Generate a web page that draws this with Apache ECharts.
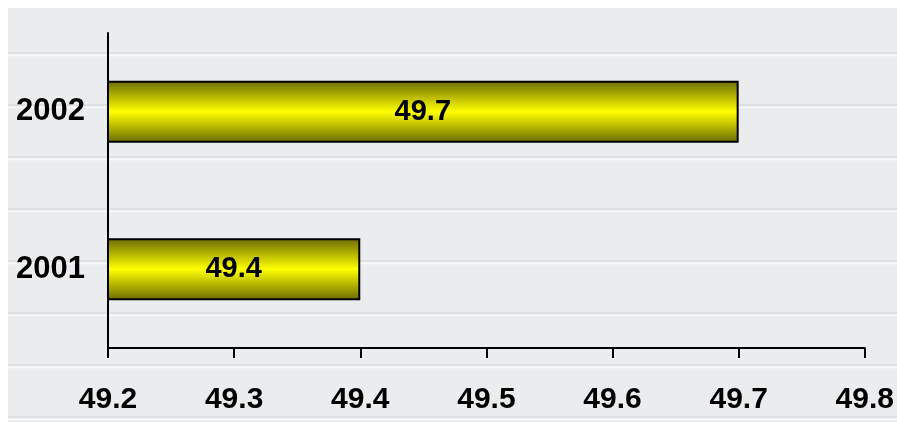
<!DOCTYPE html>
<html>
<head>
<meta charset="utf-8">
<script src="https://cdn.jsdelivr.net/npm/echarts@6/dist/echarts.min.js"></script>
<style>
  html, body { margin: 0; padding: 0; background: #ffffff; }
  #wrap { position: relative; width: 897px; height: 422px; background: #ffffff; }
  #bg {
    position: absolute; left: 8px; top: 8px; width: 889px; height: 414px;
    background-color: #eaeced;
    background-image:
      repeating-linear-gradient(180deg, rgba(255,255,255,0) 0px, rgba(255,255,255,0) 44px, rgba(200,203,205,0.6) 45px, rgba(255,255,255,0.8) 47px, rgba(255,255,255,0) 49px, rgba(255,255,255,0) 52px);
  }
  #chart { position: absolute; left: 0; top: 0; width: 897px; height: 422px; }
</style>
</head>
<body>
<div id="wrap">
  <div id="bg"></div>
  <div id="chart"></div>
</div>
<script>
const categories = ['2001', '2002'];
const values = [49.4, 49.7];
const axisMin = 49.2;
const axisMax = 49.8;
const axisStep = 0.1;

const chart = echarts.init(document.getElementById('chart'), null, { renderer: 'canvas' });
chart.setOption({
  backgroundColor: 'transparent',
  animation: false,
  grid: { left: 108, right: 31, top: 33, bottom: 74, containLabel: false },
  xAxis: {
    type: 'value',
    min: axisMin,
    max: axisMax,
    interval: axisStep,
    axisLine: { show: true, lineStyle: { color: '#000', width: 2 } },
    axisTick: { show: true, length: 10, lineStyle: { color: '#000', width: 2 } },
    splitLine: { show: false },
    axisLabel: {
      color: '#000', fontFamily: 'Liberation Sans, Arial, sans-serif',
      fontWeight: 'bold', fontSize: 30, margin: 37,
      formatter: v => v.toFixed(1)
    }
  },
  yAxis: {
    type: 'category',
    data: categories,
    axisLine: { show: true, lineStyle: { color: '#000', width: 2 } },
    axisTick: { show: false },
    axisLabel: {
      color: '#000', fontFamily: 'Liberation Sans, Arial, sans-serif',
      fontWeight: 'bold', fontSize: 31, margin: 23
    }
  },
  series: [{
    type: 'bar',
    data: values,
    barWidth: 62,
    itemStyle: {
      color: new echarts.graphic.LinearGradient(0, 0, 0, 1, [
        { offset: 0, color: '#6a6a00' },
        { offset: 0.5, color: '#ffff00' },
        { offset: 1, color: '#6a6a00' }
      ]),
      borderColor: '#000',
      borderWidth: 2
    },
    label: {
      show: true, position: 'inside',
      color: '#000', fontFamily: 'Liberation Sans, Arial, sans-serif',
      fontWeight: 'bold', fontSize: 29,
      formatter: p => p.value.toFixed(1)
    }
  }]
});
</script>
</body>
</html>
